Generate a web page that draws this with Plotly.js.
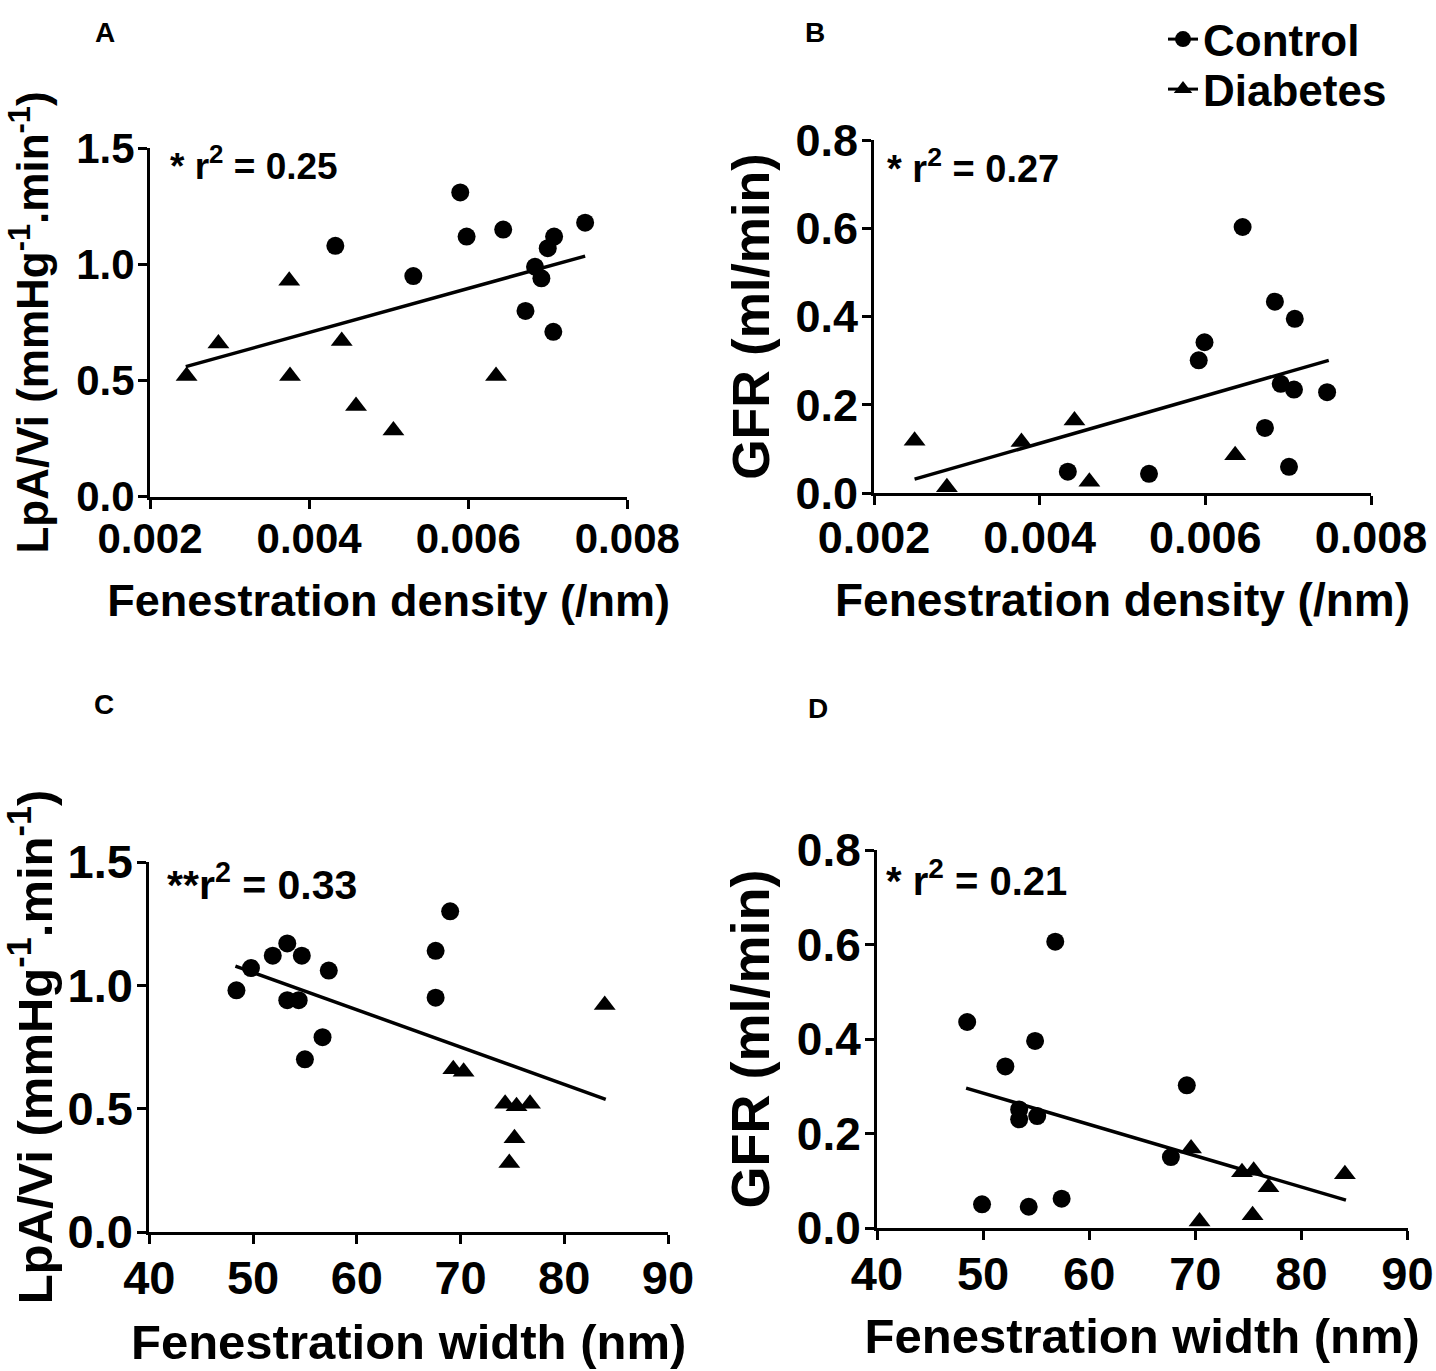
<!DOCTYPE html>
<html>
<head>
<meta charset="utf-8">
<script src="https://cdn.plot.ly/plotly-3.0.1.min.js"></script>
<style>html,body{margin:0;padding:0;background:#fff;}#chart{width:1436px;height:1371px;}</style>
</head>
<body>
<div id="chart"></div>
<script>
// Panel A: LpA/Vi vs fenestration density
const densA_ctrl = [0.00590, 0.00433, 0.00531, 0.00598, 0.00644, 0.00708, 0.00700, 0.00747, 0.00684, 0.00692, 0.00672, 0.00707];
const lpA_ctrl   = [1.31, 1.08, 0.95, 1.12, 1.15, 1.12, 1.07, 1.18, 0.99, 0.94, 0.80, 0.71];
const densA_diab = [0.00246, 0.00286, 0.00375, 0.00376, 0.00441, 0.00459, 0.00506, 0.00635];
const lpA_diab   = [0.52, 0.66, 0.93, 0.52, 0.67, 0.39, 0.285, 0.52];
const fitA_x = [0.00245, 0.00747];
const fitA_y = [0.56, 1.036];

// Panel B: GFR vs fenestration density
const densB_ctrl = [0.00645, 0.00684, 0.00708, 0.00599, 0.00592, 0.00691, 0.00707, 0.00747, 0.00672, 0.00434, 0.00532, 0.00701];
const gfrB_ctrl  = [0.603, 0.434, 0.395, 0.342, 0.301, 0.248, 0.235, 0.229, 0.148, 0.049, 0.044, 0.060];
const densB_diab = [0.00249, 0.00288, 0.00378, 0.00442, 0.00460, 0.00636];
const gfrB_diab  = [0.119, 0.0135, 0.116, 0.165, 0.026, 0.086];
const fitB_x = [0.00249, 0.00749];
const fitB_y = [0.032, 0.301];

// Panel C: LpA/Vi vs fenestration width
const widthC_ctrl = [69.0, 53.3, 51.9, 54.7, 49.8, 57.3, 67.6, 48.4, 53.3, 54.4, 67.6, 56.7, 55.0];
const lpC_ctrl    = [1.30, 1.17, 1.12, 1.12, 1.07, 1.06, 1.14, 0.98, 0.94, 0.94, 0.95, 0.79, 0.70];
const widthC_diab = [69.3, 70.3, 74.3, 75.4, 76.7, 75.2, 74.7, 83.9];
const lpC_diab    = [0.66, 0.65, 0.52, 0.51, 0.52, 0.38, 0.28, 0.92];
const fitC_x = [48.3, 84.0];
const fitC_y = [1.078, 0.538];

// Panel D: GFR vs fenestration width
const widthD_ctrl = [56.8, 48.5, 54.9, 52.1, 69.2, 53.4, 53.4, 55.1, 67.7, 49.9, 54.3, 57.4];
const gfrD_ctrl   = [0.606, 0.436, 0.396, 0.342, 0.302, 0.251, 0.230, 0.237, 0.150, 0.050, 0.045, 0.062];
const widthD_diab = [69.6, 74.4, 75.5, 76.9, 84.1, 70.4, 75.4];
const gfrD_diab   = [0.168, 0.118, 0.121, 0.086, 0.114, 0.014, 0.027];
const fitD_x = [48.4, 84.2];
const fitD_y = [0.296, 0.059];

const r2Labels = ["* r<sup>2</sup> = 0.25", "* r<sup>2</sup> = 0.27", "**r<sup>2</sup> = 0.33", "* r<sup>2</sup> = 0.21"];
const panelLetters = ["A", "B", "C", "D"];
const seriesNames = ["Control", "Diabetes"];

const FAM = "Liberation Sans, Arial, Helvetica, sans-serif";
const circ = {symbol: "circle", size: 18, color: "#000"};
const tri = {symbol: "triangle-up", size: 19, color: "#000"};
const fitLine = {color: "#000", width: 3.5};

function pts(x, y, xa, ya, marker) {
  return {x: x, y: y, xaxis: xa, yaxis: ya, type: "scatter", mode: "markers",
          marker: marker, showlegend: false, cliponaxis: false, hoverinfo: "skip"};
}
function fit(x, y, xa, ya) {
  return {x: x, y: y, xaxis: xa, yaxis: ya, type: "scatter", mode: "lines",
          line: fitLine, showlegend: false, cliponaxis: false, hoverinfo: "skip"};
}

const data = [
  fit(fitA_x, fitA_y, "x", "y"),
  pts(densA_ctrl, lpA_ctrl, "x", "y", circ),
  pts(densA_diab, lpA_diab, "x", "y", tri),
  fit(fitB_x, fitB_y, "x2", "y2"),
  pts(densB_ctrl, gfrB_ctrl, "x2", "y2", circ),
  pts(densB_diab, gfrB_diab, "x2", "y2", tri),
  fit(fitC_x, fitC_y, "x3", "y3"),
  pts(widthC_ctrl, lpC_ctrl, "x3", "y3", circ),
  pts(widthC_diab, lpC_diab, "x3", "y3", tri),
  fit(fitD_x, fitD_y, "x4", "y4"),
  pts(widthD_ctrl, gfrD_ctrl, "x4", "y4", circ),
  pts(widthD_diab, gfrD_diab, "x4", "y4", tri),
  // legend entries
  {x: [null], y: [null], xaxis: "x2", yaxis: "y2", type: "scatter", mode: "lines+markers", legend: "legend",
   name: seriesNames[0], marker: {symbol: "circle", size: 16, color: "#000"}, line: {color: "#000", width: 3}, showlegend: true},
  {x: [null], y: [null], xaxis: "x2", yaxis: "y2", type: "scatter", mode: "lines+markers", legend: "legend2",
   name: seriesNames[1], marker: {symbol: "triangle-up", size: 17, color: "#000"}, line: {color: "#000", width: 3}, showlegend: true}
];

function fnt(size) { return {family: FAM, size: size, color: "#000", weight: "bold"}; }

function xax(domain, range, tickvals, fmt, title, anchor, tsize, tisize, standoff) {
  return {domain: domain, range: range, tickvals: tickvals, tickformat: fmt, anchor: anchor,
          showline: true, linewidth: 3, linecolor: "#000", ticks: "outside", ticklen: 9, tickwidth: 3,
          tickcolor: "#000", showgrid: false, zeroline: false, tickfont: fnt(tsize), ticklabelstandoff: -6,
          title: {text: title, font: fnt(tisize), standoff: standoff}, fixedrange: true};
}
function yax(domain, range, tickvals, fmt, title, anchor, tsize, tisize, standoff) {
  return {domain: domain, range: range, tickvals: tickvals, tickformat: fmt, anchor: anchor,
          showline: true, linewidth: 3, linecolor: "#000", ticks: "outside", ticklen: 9, tickwidth: 3,
          tickcolor: "#000", showgrid: false, zeroline: false, tickfont: fnt(tsize), ticklabelstandoff: -5,
          title: {text: title, font: fnt(tisize), standoff: standoff}, fixedrange: true};
}

const W = 1436, H = 1371;
const dx = (a, b) => [a / W, b / W];
const dy = (top, bottom) => [1 - bottom / H, 1 - top / H];

const densTicks = [0.002, 0.004, 0.006, 0.008];
const widthTicks = [40, 50, 60, 70, 80, 90];
const lpTicks = [0.0, 0.5, 1.0, 1.5];
const gfrTicks = [0.0, 0.2, 0.4, 0.6, 0.8];

const lpTitle = "LpA/Vi (mmHg<sup>-1</sup>.min<sup>-1</sup>)";
const gfrTitle = "GFR (ml/min)";
const densTitle = "Fenestration density (/nm)";
const widthTitle = "Fenestration width (nm)";

const annotations = [
  {text: r2Labels[0], x: 168 / W, y: 1 - 163 / H, font: fnt(37)},
  {text: r2Labels[1], x: 885 / W, y: 1 - 166 / H, font: fnt(38)},
  {text: r2Labels[2], x: 165 / W, y: 1 - 882 / H, font: fnt(41)},
  {text: r2Labels[3], x: 884 / W, y: 1 - 878 / H, font: fnt(40)}
].map(a => Object.assign(a, {xref: "paper", yref: "paper", xanchor: "left", yanchor: "middle", showarrow: false}))
.concat([
  {text: panelLetters[0], x: 105 / W, y: 1 - 32 / H},
  {text: panelLetters[1], x: 815 / W, y: 1 - 32 / H},
  {text: panelLetters[2], x: 104 / W, y: 1 - 704 / H},
  {text: panelLetters[3], x: 818 / W, y: 1 - 708 / H}
].map(a => Object.assign(a, {xref: "paper", yref: "paper", xanchor: "center", yanchor: "middle", showarrow: false, font: fnt(28)})));

const legendBase = {xanchor: "left", yanchor: "top", font: fnt(44), bgcolor: "rgba(0,0,0,0)", itemwidth: 30, tracegroupgap: 0};

const layout = {
  width: W, height: H,
  margin: {l: 0, r: 0, t: 0, b: 0},
  paper_bgcolor: "#fff", plot_bgcolor: "#fff",
  font: {family: FAM, color: "#000", weight: "bold"},
  showlegend: true,
  legend: Object.assign({x: 1163 / W, y: 1 - 4 / H}, legendBase),
  legend2: Object.assign({x: 1163 / W, y: 1 - 54 / H}, legendBase),
  xaxis:  xax(dx(150, 627.3), [0.002, 0.008], densTicks, ".3f", densTitle, "y", 42, 45, 24),
  yaxis:  yax(dy(148.3, 496.7), [0, 1.5], lpTicks, ".1f", lpTitle, "x", 42, 44, 14),
  xaxis2: xax(dx(874, 1371), [0.002, 0.008], densTicks, ".3f", densTitle, "y2", 45, 46, 22),
  yaxis2: yax(dy(140, 493.3), [0, 0.8], gfrTicks, ".1f", gfrTitle, "x2", 45, 52, 10),
  xaxis3: xax(dx(149.3, 668), [40, 90], widthTicks, "d", widthTitle, "y3", 47, 49, 22),
  yaxis3: yax(dy(862, 1232), [0, 1.5], lpTicks, ".1f", lpTitle, "x3", 47, 49, 10),
  xaxis4: xax(dx(877, 1407.5), [40, 90], widthTicks, "d", widthTitle, "y4", 47, 49, 20),
  yaxis4: yax(dy(850, 1228), [0, 0.8], gfrTicks, ".1f", gfrTitle, "x4", 46, 54, 10),
  annotations: annotations
};

Plotly.newPlot("chart", data, layout, {staticPlot: true, displayModeBar: false});
</script>
</body>
</html>
